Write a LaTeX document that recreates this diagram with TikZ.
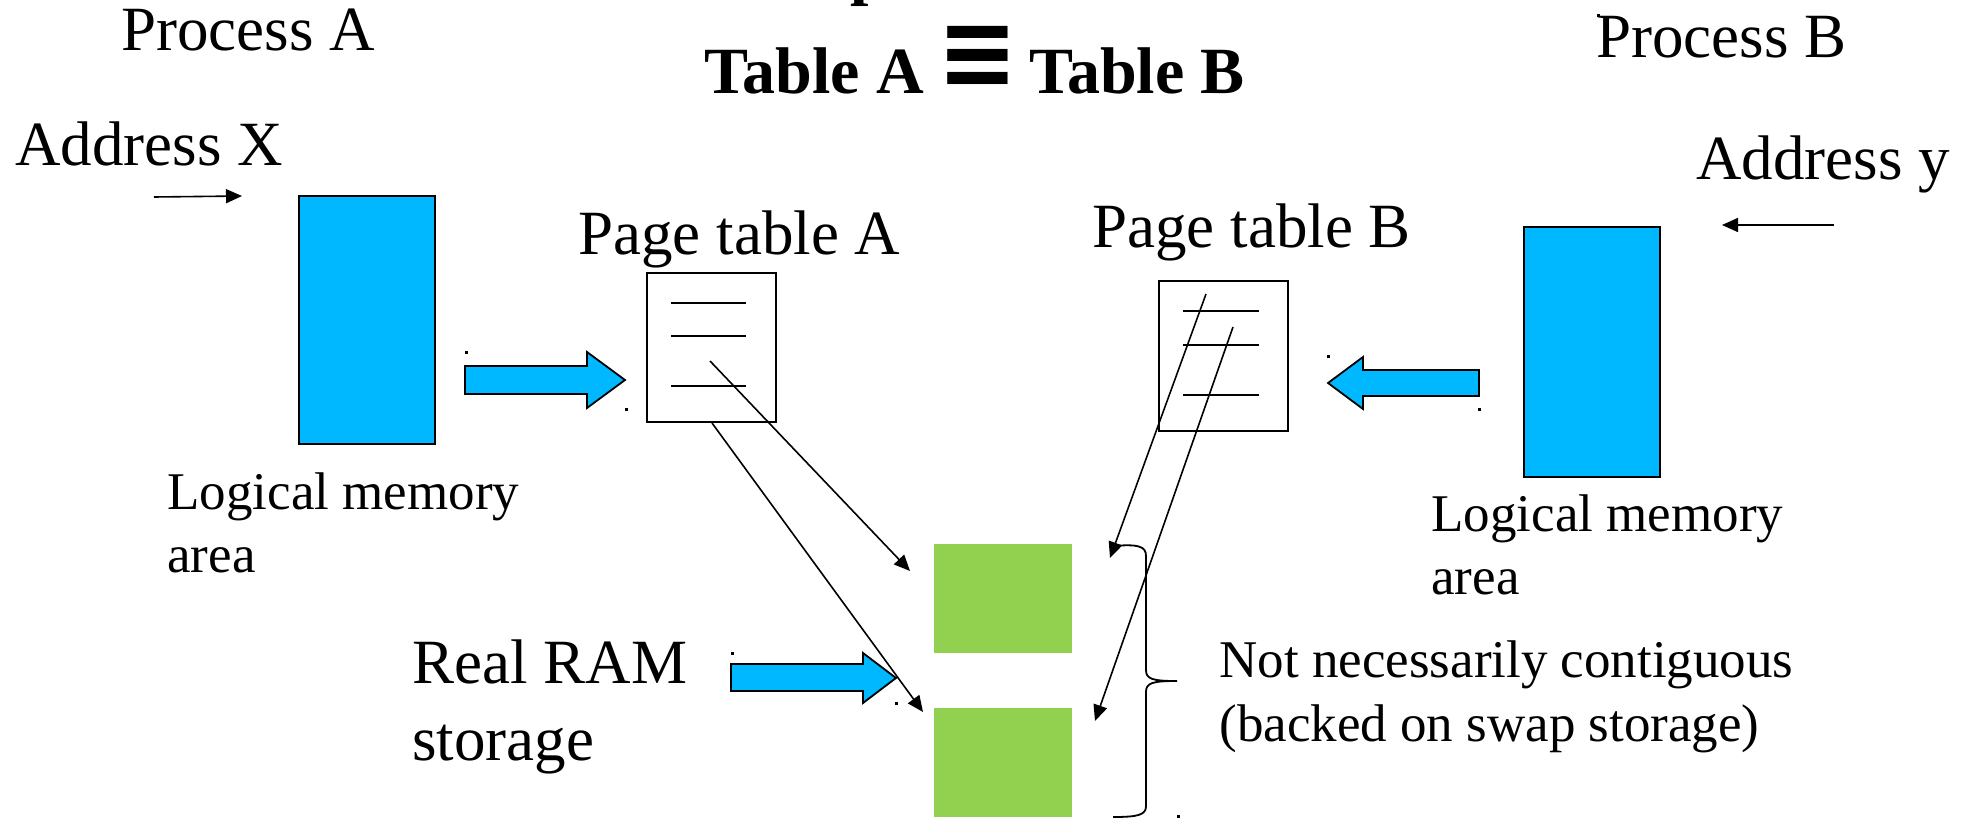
\documentclass[tikz,border=0pt]{standalone}
\usepackage{fontspec}
\setmainfont{Liberation Serif}
\newfontfamily\symfont{DejaVu Sans}
\usetikzlibrary{arrows.meta}
\definecolor{lblue}{RGB}{0,184,255}
\definecolor{lgreen}{RGB}{146,208,80}
\begin{document}
\begin{tikzpicture}[x=0.5pt,y=-0.5pt,
  big/.style={font=\fontsize{31.5}{38}\selectfont, inner sep=0pt, anchor=base west},
  mid/.style={font=\fontsize{26.5}{31}\selectfont, inner sep=0pt, anchor=base west},
  ttl/.style={font=\fontsize{33}{40}\selectfont\bfseries, inner sep=0pt, anchor=base west},
  mem/.style={draw=black, line width=1pt, fill=lblue, minimum width=68pt, minimum height=124pt, inner sep=0pt},
  ptab/.style={draw=black, line width=0.9pt, fill=white, minimum width=64.5pt, minimum height=74.5pt, inner sep=0pt},
  ram/.style={fill=lgreen, minimum width=69pt, minimum height=54.5pt, inner sep=0pt},
  fat/.style={draw=black, line width=0.9pt, fill=lblue, line join=miter},
  conn/.style={line width=0.8pt, -{Triangle[length=8pt,width=7pt]}},
  entry/.style={line width=1pt},
  brace/.style={line width=0.9pt},
  dotmark/.style={fill=black}
]
\useasboundingbox (0,0) rectangle (1972,819);

% title
\node[ttl] (tp) at (850,-8) {p};
\node[ttl] (title) at (704,93) {Table A\hspace{0.21em}\raisebox{0.07em}{\scalebox{1.46}[1.6]{\symfont\bfseries ≡}}\hspace{0.16em}Table B};

% texts
\node[big] (procA) at (121,50) {Process A};
\node[big] (procB) at (1596,57) {Process B};
\node[big] (addrX) at (15,165) {Address X};
\node[big] (addrY) at (1696,179) {Address y};
\node[big] (ptAlab) at (578,254) {Page table A};
\node[big] (ptBlab) at (1092,247) {Page table B};
\node[mid] (logA1) at (167,509) {Logical memory};
\node[mid] (logA2) at (167,572) {area};
\node[mid] (logB1) at (1431,531) {Logical memory};
\node[mid] (logB2) at (1431,594) {area};
\node[big] (ram1) at (412,683) {Real RAM};
\node[big] (ram2) at (412,760) {storage};
\node[mid] (nc1) at (1219,677) {Not necessarily contiguous};
\node[mid] (nc2) at (1219,741) {(backed on swap storage)};

% logical memory areas
\node[mem] (memA) at (367,320) {};
\node[mem, minimum height=125pt] (memB) at (1592,352) {};

% page tables
\node[ptab] (ptA) at (711.5,347.5) {};
\node[ptab, minimum height=75pt] (ptB) at (1223.5,356) {};
\draw[entry] (671,303) -- (746,303);
\draw[entry] (671,336) -- (746,336);
\draw[entry] (671,386) -- (746,386);
\draw[entry] (1183,311) -- (1259,311);
\draw[entry] (1183,345) -- (1259,345);
\draw[entry] (1183,395) -- (1259,395);

% RAM blocks
\node[ram] (ramA) at (1003,598.5) {};
\node[ram] (ramB) at (1003,762.5) {};

% fat arrows
\draw[fat] (465,366) -- (587,366) -- (587,352) -- (625,380) -- (587,408) -- (587,394) -- (465,394) -- cycle;
\draw[fat] (1479,370) -- (1363,370) -- (1363,357) -- (1328,383) -- (1363,409) -- (1363,396) -- (1479,396) -- cycle;
\draw[fat] (731,664) -- (863,664) -- (863,653) -- (896,678) -- (863,703) -- (863,691) -- (731,691) -- cycle;

% tiny marks
\foreach \p in {(466,352),(626,409),(1328,356),(1479,409),(732,653),(896,703),(1178,816),(1598,15)}
  \fill[dotmark] \p ++(-1,-1) rectangle ++(2.5,2.5);

% address arrows
\coordinate (xs) at (154,197);
\coordinate (xe) at (242,196);
\coordinate (ys) at (1834,225);
\coordinate (ye) at (1722,225);
\draw[conn] (xs) -- (xe);
\draw[conn] (ys) -- (ye);

% page table connectors
\coordinate (sA1) at (710,361);
\coordinate (eA1) at (910,571);
\coordinate (sA2) at (712,423);
\coordinate (eA2) at (923,712);
\coordinate (sB1) at (1206,294);
\coordinate (eB1) at (1110,558);
\coordinate (sB2) at (1233,327);
\coordinate (eB2) at (1095,721);
\draw[conn] (sA1) -- (eA1);
\draw[conn] (sA2) -- (eA2);
\draw[conn] (sB1) -- (eB1);
\draw[conn] (sB2) -- (eB2);

% brace
\draw[brace] (1113,546) .. controls (1138,544) and (1146,546) .. (1146,556)
  -- (1146,670) .. controls (1146,679) and (1152,681) .. (1177,681)
  .. controls (1152,681) and (1146,683) .. (1146,692)
  -- (1146,806) .. controls (1146,815) and (1138,817) .. (1113,817);
\end{tikzpicture}
\end{document}
